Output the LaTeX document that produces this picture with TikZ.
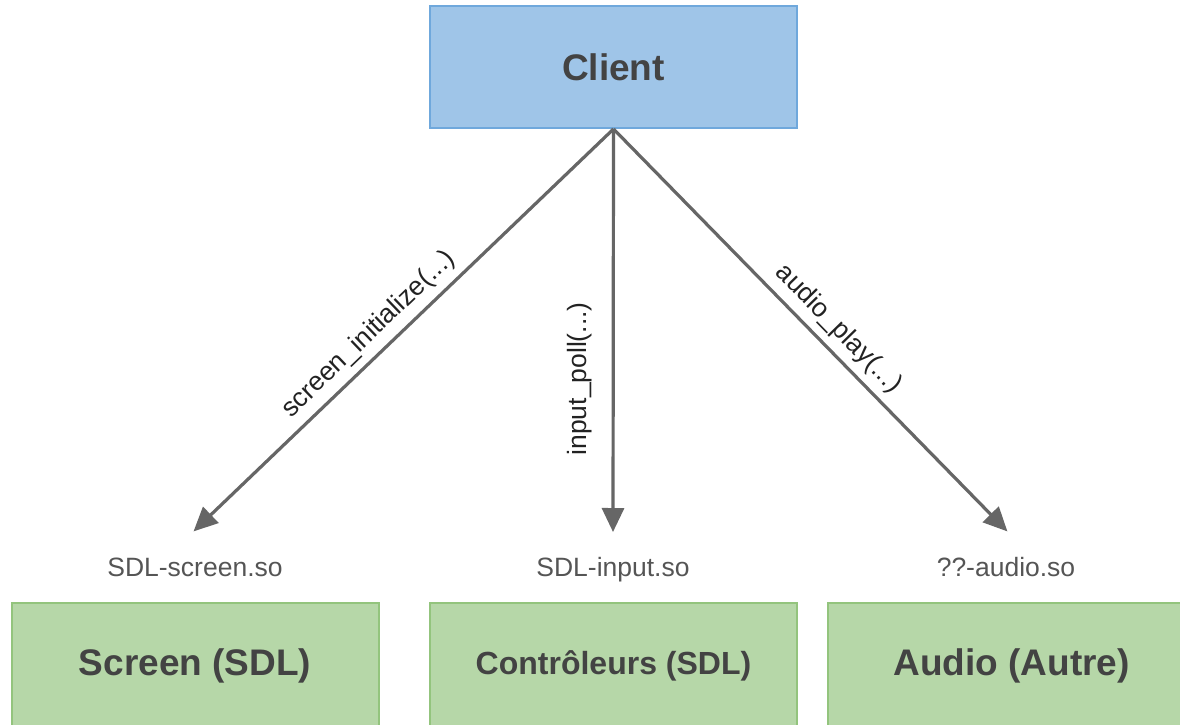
\documentclass[tikz,border=0pt]{standalone}
\usepackage{fontspec}
\setmainfont{Liberation Sans}
\usetikzlibrary{arrows.meta}

\definecolor{clientfill}{HTML}{9FC5E8}
\definecolor{clientline}{HTML}{6FA8DC}
\definecolor{libfill}{HTML}{B6D7A8}
\definecolor{libline}{HTML}{93C47D}
\definecolor{boxtext}{HTML}{434343}
\definecolor{sotext}{HTML}{555555}
\definecolor{calltext}{HTML}{222222}
\definecolor{arrowgrey}{HTML}{666666}

\tikzset{
  box/.style={draw, line width=2pt, minimum width=367pt, inner sep=0pt,
              text=boxtext, font=\bfseries\fontsize{37}{44}\selectfont},
  clientbox/.style={box, fill=clientfill, draw=clientline, minimum height=122pt},
  libbox/.style={box, fill=libfill, draw=libline, minimum height=126pt},
  solabel/.style={anchor=north, text=sotext, inner xsep=0pt, inner ysep=27pt,
                  text height=19pt, text depth=0.5pt,
                  font=\fontsize{26.5}{30}\selectfont},
  calllabel/.style={text=calltext, font=\fontsize{26.5}{30}\selectfont},
  conn/.style={draw=arrowgrey, line width=3.2pt,
               -{Triangle[length=24pt,width=22pt]}, shorten >=-2pt},
}

\begin{document}
\begin{tikzpicture}[x=1pt, y=-1pt]
  \useasboundingbox (0,0) rectangle (1180,725);
  \clip (0,0) rectangle (1180,725);
  \fill[white] (0,0) rectangle (1180,725);

  % caller at the top
  \node[clientbox] (client) at (613.5,67) {Client};

  % shared-library names above the implementations
  \node[solabel] (soscreen) at (195,530) {SDL-screen.so};
  \node[solabel] (soinput)  at (613,530) {SDL-input.so};
  \node[solabel] (soaudio)  at (1006,530) {??-audio.so};

  % implementations along the bottom
  \node[libbox] (screen) at (195,666) {Screen (SDL)};
  \node[libbox, font=\bfseries\fontsize{32}{38}\selectfont] (ctrl) at (613.5,666) {Contrôleurs (SDL)};
  \node[libbox] (audio) at (1011.5,666) {Audio (Autre)};

  % calls from the client into each library
  \draw[conn] (client.south) -- node[calllabel, pos=0.55, sloped, above, inner sep=7pt]
        {screen\_initialize(...)} (soscreen.north);
  \draw[conn] (client.south) -- node[calllabel, pos=0.623, rotate=90, anchor=south, inner sep=20pt]
        {input\_poll(...)} (soinput.north);
  \draw[conn] (client.south) -- node[calllabel, pos=0.535, sloped, above, inner sep=7pt]
        {audio\_play(...)} (soaudio.north);
\end{tikzpicture}
\end{document}
